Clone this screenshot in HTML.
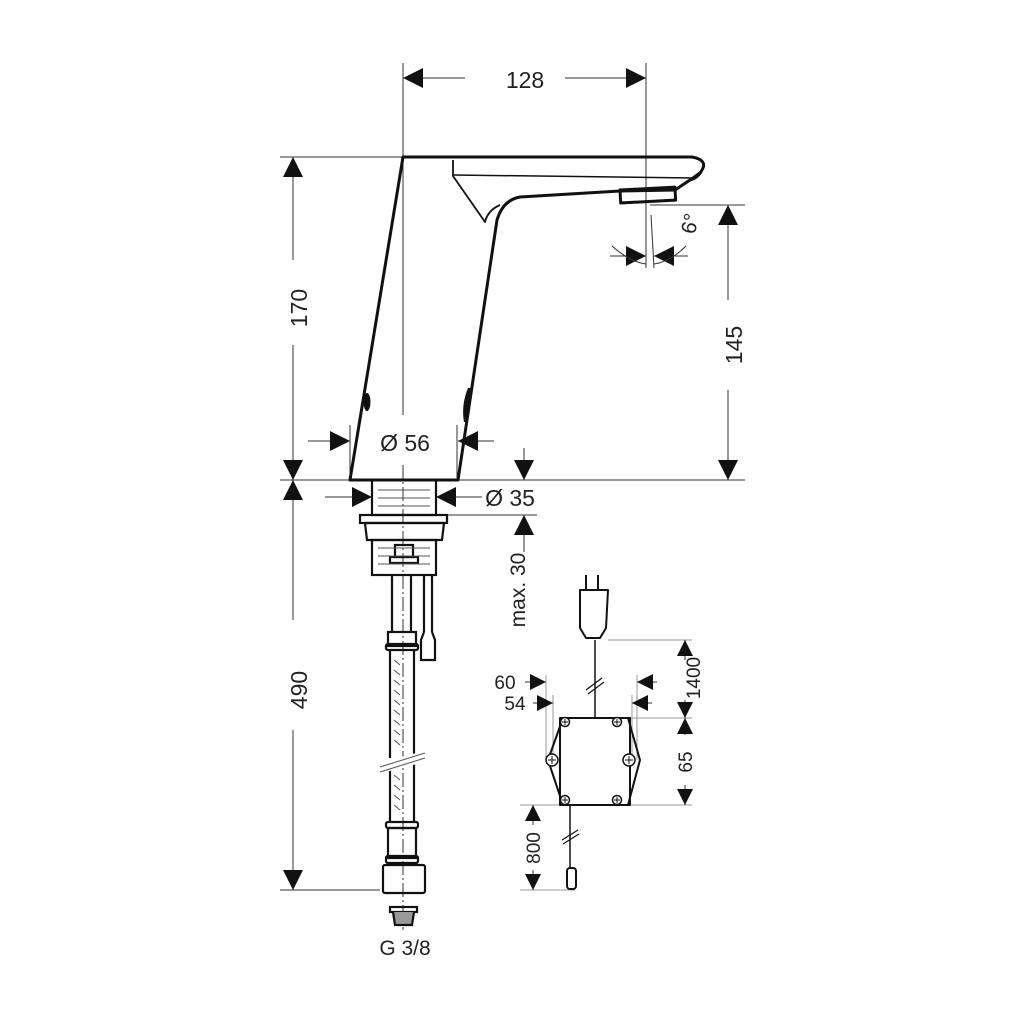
<!DOCTYPE html>
<html><head><meta charset="utf-8"><style>
html,body{margin:0;padding:0;background:#fff}
svg{display:block}
text{font-family:"Liberation Sans","DejaVu Sans",sans-serif;fill:#222}
</style></head><body>
<svg width="1024" height="1024" viewBox="0 0 1024 1024" xmlns="http://www.w3.org/2000/svg">
<defs>
<marker id="a" viewBox="0 0 10 10" refX="10" refY="5" markerWidth="20" markerHeight="20" markerUnits="userSpaceOnUse" orient="auto"><path d="M0,0 L10,5 L0,10 z" fill="#111"/></marker>
<marker id="b" viewBox="0 0 10 10" refX="10" refY="5" markerWidth="16" markerHeight="16" markerUnits="userSpaceOnUse" orient="auto"><path d="M0,0 L10,5 L0,10 z" fill="#111"/></marker>
</defs>
<g stroke="#333" stroke-width="1" fill="none">
<line x1="403" y1="63" x2="403" y2="415"/>
<line x1="403" y1="465" x2="403" y2="930" stroke-dasharray="14,3,2,3"/>
<line x1="646" y1="63" x2="646" y2="268"/>
<line x1="651" y1="215" x2="654" y2="268"/>
<line x1="280" y1="157" x2="403" y2="157"/>
<line x1="280" y1="480" x2="745" y2="480"/>
<line x1="650" y1="205" x2="745" y2="205"/>
<line x1="280" y1="890" x2="380" y2="890"/>
<line x1="350" y1="425" x2="350" y2="478"/>
<line x1="457" y1="425" x2="457" y2="478"/>
<line x1="436" y1="515" x2="537" y2="515"/>
<line x1="456" y1="497" x2="482" y2="497"/>
<line x1="325" y1="497" x2="354" y2="497"/>
<line x1="308" y1="441" x2="332" y2="441"/>
<line x1="476" y1="441" x2="494" y2="441"/>
<line x1="465" y1="78" x2="403" y2="78" marker-end="url(#a)"/>
<line x1="565" y1="78" x2="646" y2="78" marker-end="url(#a)"/>
<line x1="293" y1="260" x2="293" y2="157" marker-end="url(#a)"/>
<line x1="293" y1="345" x2="293" y2="480" marker-end="url(#a)"/>
<line x1="293" y1="620" x2="293" y2="480" marker-end="url(#a)"/>
<line x1="293" y1="730" x2="293" y2="890" marker-end="url(#a)"/>
<line x1="728" y1="300" x2="728" y2="205" marker-end="url(#a)"/>
<line x1="728" y1="390" x2="728" y2="480" marker-end="url(#a)"/>
<line x1="330" y1="441" x2="350" y2="441" marker-end="url(#a)"/>
<line x1="478" y1="441" x2="458" y2="441" marker-end="url(#a)"/>
<line x1="352" y1="497" x2="372" y2="497" marker-end="url(#a)"/>
<line x1="458" y1="497" x2="436" y2="497" marker-end="url(#a)"/>
<line x1="524" y1="448" x2="524" y2="480" marker-end="url(#a)"/>
<line x1="524" y1="552" x2="524" y2="515" marker-end="url(#a)"/>
<line x1="610" y1="256" x2="646" y2="256" marker-end="url(#a)"/>
<line x1="688" y1="256" x2="654" y2="256" marker-end="url(#a)"/>
<path d="M612,246 Q630,262 646,264"/>
<path d="M686,246 Q670,262 654,264"/>
</g>
<g stroke="#111" stroke-width="3" fill="none" stroke-linejoin="round">
<path d="M403,157 L692,157 Q708,160 702,170 Q698,178 690,180 L675,190 L620,191 L520,197 Q503,200 497,220 L458,480 L350,480 Z"/>
<rect x="620" y="190" width="55" height="13" transform="rotate(-3 620 190)"/>
<path stroke-width="1.8" d="M453,160 L453,176 L485,222 Q488,210 500,205"/>
<path stroke-width="1.5" d="M453,175 L695,178"/>
<path stroke-width="1.5" d="M700,172 L675,190"/>
</g>
<ellipse cx="367" cy="402" rx="3.5" ry="9" fill="#111"/>
<path d="M468,388 Q461,405 464,422 L468,422 Q467,404 472,388 Z" fill="#111"/>
<g stroke="#111" stroke-width="2.2" fill="none">
<rect x="372" y="480" width="64" height="35"/>
<rect x="360" y="515" width="87" height="8"/>
<path d="M365,523 L444,523 L442,540 L367,540 Z"/>
<rect x="372" y="540" width="64" height="35"/>
<rect x="395" y="545" width="18" height="12"/>
<rect x="390" y="557" width="28" height="6"/>
<line x1="392" y1="575" x2="392" y2="632"/>
<line x1="411" y1="575" x2="411" y2="632"/>
<line x1="424" y1="575" x2="424" y2="632"/>
<line x1="432" y1="575" x2="432" y2="632"/>
<path d="M424,632 L421,640 L421,660 L435,660 L435,640 L432,632"/>
<rect x="388" y="632" width="28" height="14"/>
<rect x="386" y="644" width="32" height="6" rx="2"/>
<line x1="390" y1="650" x2="390" y2="758"/>
<line x1="414" y1="650" x2="414" y2="755"/>
<line x1="390" y1="765" x2="390" y2="822"/>
<line x1="414" y1="762" x2="414" y2="822"/>
<rect x="386" y="822" width="32" height="6" rx="2"/>
<rect x="388" y="828" width="28" height="30"/>
<rect x="386" y="856" width="32" height="7" rx="2"/>
<rect x="383" y="865" width="42" height="28" rx="2"/>
<rect x="390" y="907" width="27" height="5"/>
<path d="M393,912 L395,925 L412,925 L414,912" fill="#999"/>
</g>
<g stroke="#555" stroke-width="1">
<line x1="378" y1="490" x2="430" y2="490"/><line x1="378" y1="498" x2="430" y2="498"/><line x1="378" y1="506" x2="430" y2="506"/>
<line x1="378" y1="548" x2="430" y2="548"/><line x1="378" y1="556" x2="430" y2="556"/><line x1="378" y1="564" x2="430" y2="564"/>
<path d="M394,660 l6,5 M394,670 l6,5 M394,680 l6,5 M394,690 l6,5 M394,700 l6,5 M394,710 l6,5 M394,720 l6,5 M394,730 l6,5 M394,740 l6,5 M394,775 l6,5 M394,785 l6,5 M394,795 l6,5 M394,805 l6,5"/>
<path d="M374,767 L432,752 M374,772 L432,757" stroke="#fff" stroke-width="6"/>
<line x1="380" y1="767" x2="425" y2="753"/><line x1="380" y1="772" x2="425" y2="758"/>
</g>
<g stroke="#999" stroke-width="1" fill="none">
<line x1="608" y1="640" x2="692" y2="640"/>
<line x1="630" y1="718" x2="692" y2="718"/>
<line x1="520" y1="805" x2="692" y2="805"/>
<line x1="520" y1="890" x2="575" y2="890"/>
<line x1="546" y1="675" x2="546" y2="760"/>
<line x1="553" y1="695" x2="553" y2="760"/>
<line x1="632" y1="695" x2="632" y2="760"/>
<line x1="637" y1="675" x2="637" y2="760"/>
</g>
<g stroke="#333" stroke-width="1" fill="none">
<line x1="685" y1="660" x2="685" y2="640" marker-end="url(#b)"/>
<line x1="685" y1="700" x2="685" y2="718" marker-end="url(#b)"/>
<line x1="685" y1="735" x2="685" y2="718" marker-end="url(#b)"/>
<line x1="685" y1="785" x2="685" y2="805" marker-end="url(#b)"/>
<line x1="533" y1="825" x2="533" y2="805" marker-end="url(#b)"/>
<line x1="533" y1="870" x2="533" y2="890" marker-end="url(#b)"/>
<line x1="525" y1="682" x2="546" y2="682" marker-end="url(#b)"/>
<line x1="533" y1="703" x2="553" y2="703" marker-end="url(#b)"/>
<line x1="657" y1="682" x2="637" y2="682" marker-end="url(#b)"/>
<line x1="652" y1="703" x2="632" y2="703" marker-end="url(#b)"/>
</g>
<g stroke="#111" stroke-width="2" fill="none" stroke-linejoin="round">
<path d="M563,718 L628,718 L640,760 L628,805 L563,805 L548,760 Z"/>
<rect x="560" y="718" width="70" height="87"/>
<line x1="595" y1="640" x2="595" y2="718" stroke-width="1.5"/>
<line x1="570" y1="805" x2="570" y2="868" stroke-width="1.5"/>
<path d="M580,590 L608,590 L606,628 L600,638 L586,638 L580,628 Z"/>
<line x1="586" y1="575" x2="586" y2="590"/><line x1="598" y1="575" x2="598" y2="590"/>
<rect x="567" y="868" width="9" height="21" rx="3"/>
</g>
<g stroke="#111" stroke-width="1.2">
<line x1="586" y1="690" x2="602" y2="678"/><line x1="588" y1="694" x2="604" y2="682"/>
<line x1="562" y1="840" x2="578" y2="830"/><line x1="563" y1="844" x2="579" y2="834"/>
</g>
<g fill="#fff" stroke="#111" stroke-width="1.5">
<circle cx="565" cy="722" r="4.5"/><circle cx="617" cy="722" r="4.5"/>
<circle cx="565" cy="800" r="4.5"/><circle cx="617" cy="800" r="4.5"/>
<circle cx="552" cy="760" r="6"/><circle cx="629" cy="760" r="6"/>
</g>
<g stroke="#111" stroke-width="1">
<path d="M562,722h6M565,719v6M614,722h6M617,719v6M562,800h6M565,797v6M614,800h6M617,797v6M548,760h8M552,756v8M625,760h8M629,756v8"/>
</g>
<text x="525" y="88" font-size="23" text-anchor="middle">128</text>
<text x="307" y="308" font-size="23" text-anchor="middle" transform="rotate(-90 307 308)">170</text>
<text x="307" y="690" font-size="23" text-anchor="middle" transform="rotate(-90 307 690)">490</text>
<text x="742" y="345" font-size="23" text-anchor="middle" transform="rotate(-90 742 345)">145</text>
<text x="405" y="451" font-size="23" text-anchor="middle">Ø 56</text>
<text x="510" y="506" font-size="23" text-anchor="middle">Ø 35</text>
<text x="525" y="590" font-size="21" text-anchor="middle" transform="rotate(-90 525 590)">max. 30</text>
<text x="697" y="225" font-size="21" text-anchor="middle" transform="rotate(-78 697 225)">6°</text>
<text x="405" y="955" font-size="21" text-anchor="middle">G 3/8</text>
<text x="505" y="689" font-size="19" text-anchor="middle">60</text>
<text x="515" y="710" font-size="19" text-anchor="middle">54</text>
<text x="700" y="678" font-size="19" text-anchor="middle" transform="rotate(-90 700 678)">1400</text>
<text x="692" y="762" font-size="19" text-anchor="middle" transform="rotate(-90 692 762)">65</text>
<text x="540" y="848" font-size="19" text-anchor="middle" transform="rotate(-90 540 848)">800</text>
</svg>
</body></html>
